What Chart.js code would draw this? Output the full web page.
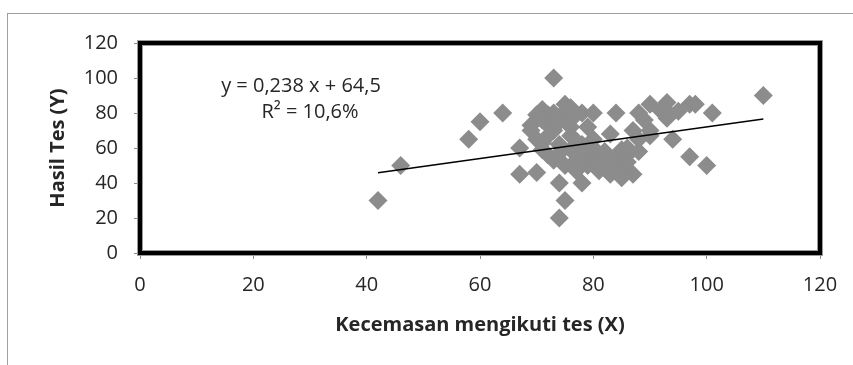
<!DOCTYPE html>
<html>
<head>
<meta charset="utf-8">
<script src="https://cdn.jsdelivr.net/npm/chart.js@4"></script>
<style>
	html, body { margin: 0; padding: 0; background: #fff; }
	#wrap { position: relative; width: 853px; height: 365px; }
</style>
</head>
<body>
<div id="wrap"><canvas id="chart" width="853" height="365"></canvas></div>
<script>
// ── Data ─────────────────────────────────────────────
const kecemasanX = [
	42, 46, 58, 60, 64, 67, 67, 69, 70, 70, 70, 71, 71, 72, 72, 72, 73, 73, 73, 73,
	74, 74, 74, 75, 75, 75, 75, 76, 76, 76, 77, 78, 78, 78, 78, 79, 79, 80, 80, 81,
	81, 83, 83, 83, 84, 84, 85, 85, 86, 86, 87, 87, 88, 88, 89, 90, 90, 90, 93, 93,
	92, 95, 93, 94, 97, 97, 98, 100, 101, 110,
	71, 72, 74, 76, 77, 79, 80, 80, 82, 82, 84, 85, 86, 88, 74, 71, 69, 76, 77, 79,
];
const hasilY = [
	30, 50, 65, 75, 80, 45, 60, 73, 46, 65, 79, 59, 82, 56, 73, 79, 100, 53, 70, 80,
	20, 40, 62, 30, 50, 85, 81, 76, 59, 67, 47, 40, 56, 62, 80, 50, 59, 80, 65, 47,
	56, 45, 53, 68, 50, 80, 43, 59, 56, 60, 45, 70, 65, 80, 76, 67, 70, 85, 86, 77,
	81, 81, 81, 65, 55, 85, 85, 50, 80, 90,
	63, 67, 57, 72, 53, 55, 52, 60, 50, 58, 55, 48, 52, 58, 75, 76, 70, 83, 64, 72,
];
// trendline as drawn (endpoints)
const trendX = [42, 110];
const trendY = [45.8, 76.6];
const axisTicks = [0, 20, 40, 60, 80, 100, 120];
const equationLines = ['y = 0,238 x + 64,5', 'R² = 10,6%'];

const palette = {
	marker: '#8c8c8c',
	ink: '#262626',
	frame: '#000000',
	outer: '#a0a0a0',
	tick: '#8a8a8a',
};
const fontFamily = '"Open Sans", Lato, sans-serif';

const toPoints = (xs, ys) => xs.map((x, i) => ({ x, y: ys[i] }));

// ── Frame + equation plugin ─────────────────────────
const decorPlugin = {
	id: 'decor',
	beforeDraw(chart) {
		const { ctx } = chart;
		ctx.save();
		ctx.strokeStyle = palette.outer;
		ctx.lineWidth = 1;
		ctx.strokeRect(7.5, 13.5, 900, 400);
		ctx.restore();
	},
	afterDraw(chart) {
		const { ctx, chartArea: a } = chart;
		ctx.save();
		ctx.strokeStyle = '#9a9a9a';
		ctx.lineWidth = 6;
		ctx.strokeRect(a.left, a.top, a.right - a.left, a.bottom - a.top);
		ctx.strokeStyle = palette.frame;
		ctx.lineWidth = 4;
		ctx.strokeRect(a.left, a.top, a.right - a.left, a.bottom - a.top);

		ctx.fillStyle = palette.ink;
		ctx.font = '20px ' + fontFamily;
		ctx.textAlign = 'center';
		ctx.textBaseline = 'middle';
		ctx.fillText(equationLines[0], 301, 86);
		ctx.fillText(equationLines[1], 310, 112);
		ctx.restore();
	},
};

new Chart(document.getElementById('chart'), {
	type: 'scatter',
	data: {
		datasets: [
			{
				label: 'Trend',
				data: toPoints(trendX, trendY),
				showLine: true,
				borderColor: '#000000',
				borderWidth: 1.5,
				pointRadius: 0,
				fill: false,
			},
			{
				label: 'Data',
				data: toPoints(kecemasanX, hasilY),
				pointStyle: 'rectRot',
				pointRadius: 9.5,
				pointHoverRadius: 9.5,
				backgroundColor: palette.marker,
				borderColor: palette.marker,
				borderWidth: 0,
			},
		],
	},
	options: {
		responsive: false,
		animation: false,
		layout: { padding: { left: 0, top: 43, right: 33, bottom: 0 } },
		plugins: {
			legend: { display: false },
			tooltip: { enabled: false },
		},
		scales: {
			x: {
				type: 'linear',
				min: 0,
				max: 120,
				afterBuildTicks: (scale) => {
					scale.ticks = axisTicks.map((v) => ({ value: v }));
				},
				afterFit: (scale) => {
					scale.height = 112;
				},
				border: { display: false },
				grid: {
					drawOnChartArea: false,
					drawTicks: true,
					tickLength: 6,
					color: palette.tick,
				},
				ticks: {
					color: palette.ink,
					font: { family: fontFamily, size: 20 },
					padding: 14,
					maxRotation: 0,
				},
				title: {
					display: true,
					text: 'Kecemasan mengikuti tes (X)',
					color: palette.ink,
					font: { family: fontFamily, size: 20, weight: 'bold' },
					padding: { top: 0, bottom: 28 },
				},
			},
			y: {
				type: 'linear',
				min: 0,
				max: 120,
				afterBuildTicks: (scale) => {
					scale.ticks = axisTicks.map((v) => ({ value: v }));
				},
				afterFit: (scale) => {
					scale.width = 140;
				},
				border: { display: false },
				grid: {
					drawOnChartArea: false,
					drawTicks: true,
					tickLength: 6,
					color: palette.tick,
				},
				ticks: {
					color: palette.ink,
					font: { family: fontFamily, size: 20 },
					padding: 16,
				},
				title: {
					display: true,
					text: 'Hasil Tes (Y)',
					color: palette.ink,
					font: { family: fontFamily, size: 20, weight: 'bold' },
					padding: { top: 46, bottom: 0 },
				},
			},
		},
	},
	plugins: [decorPlugin],
});
</script>
</body>
</html>
